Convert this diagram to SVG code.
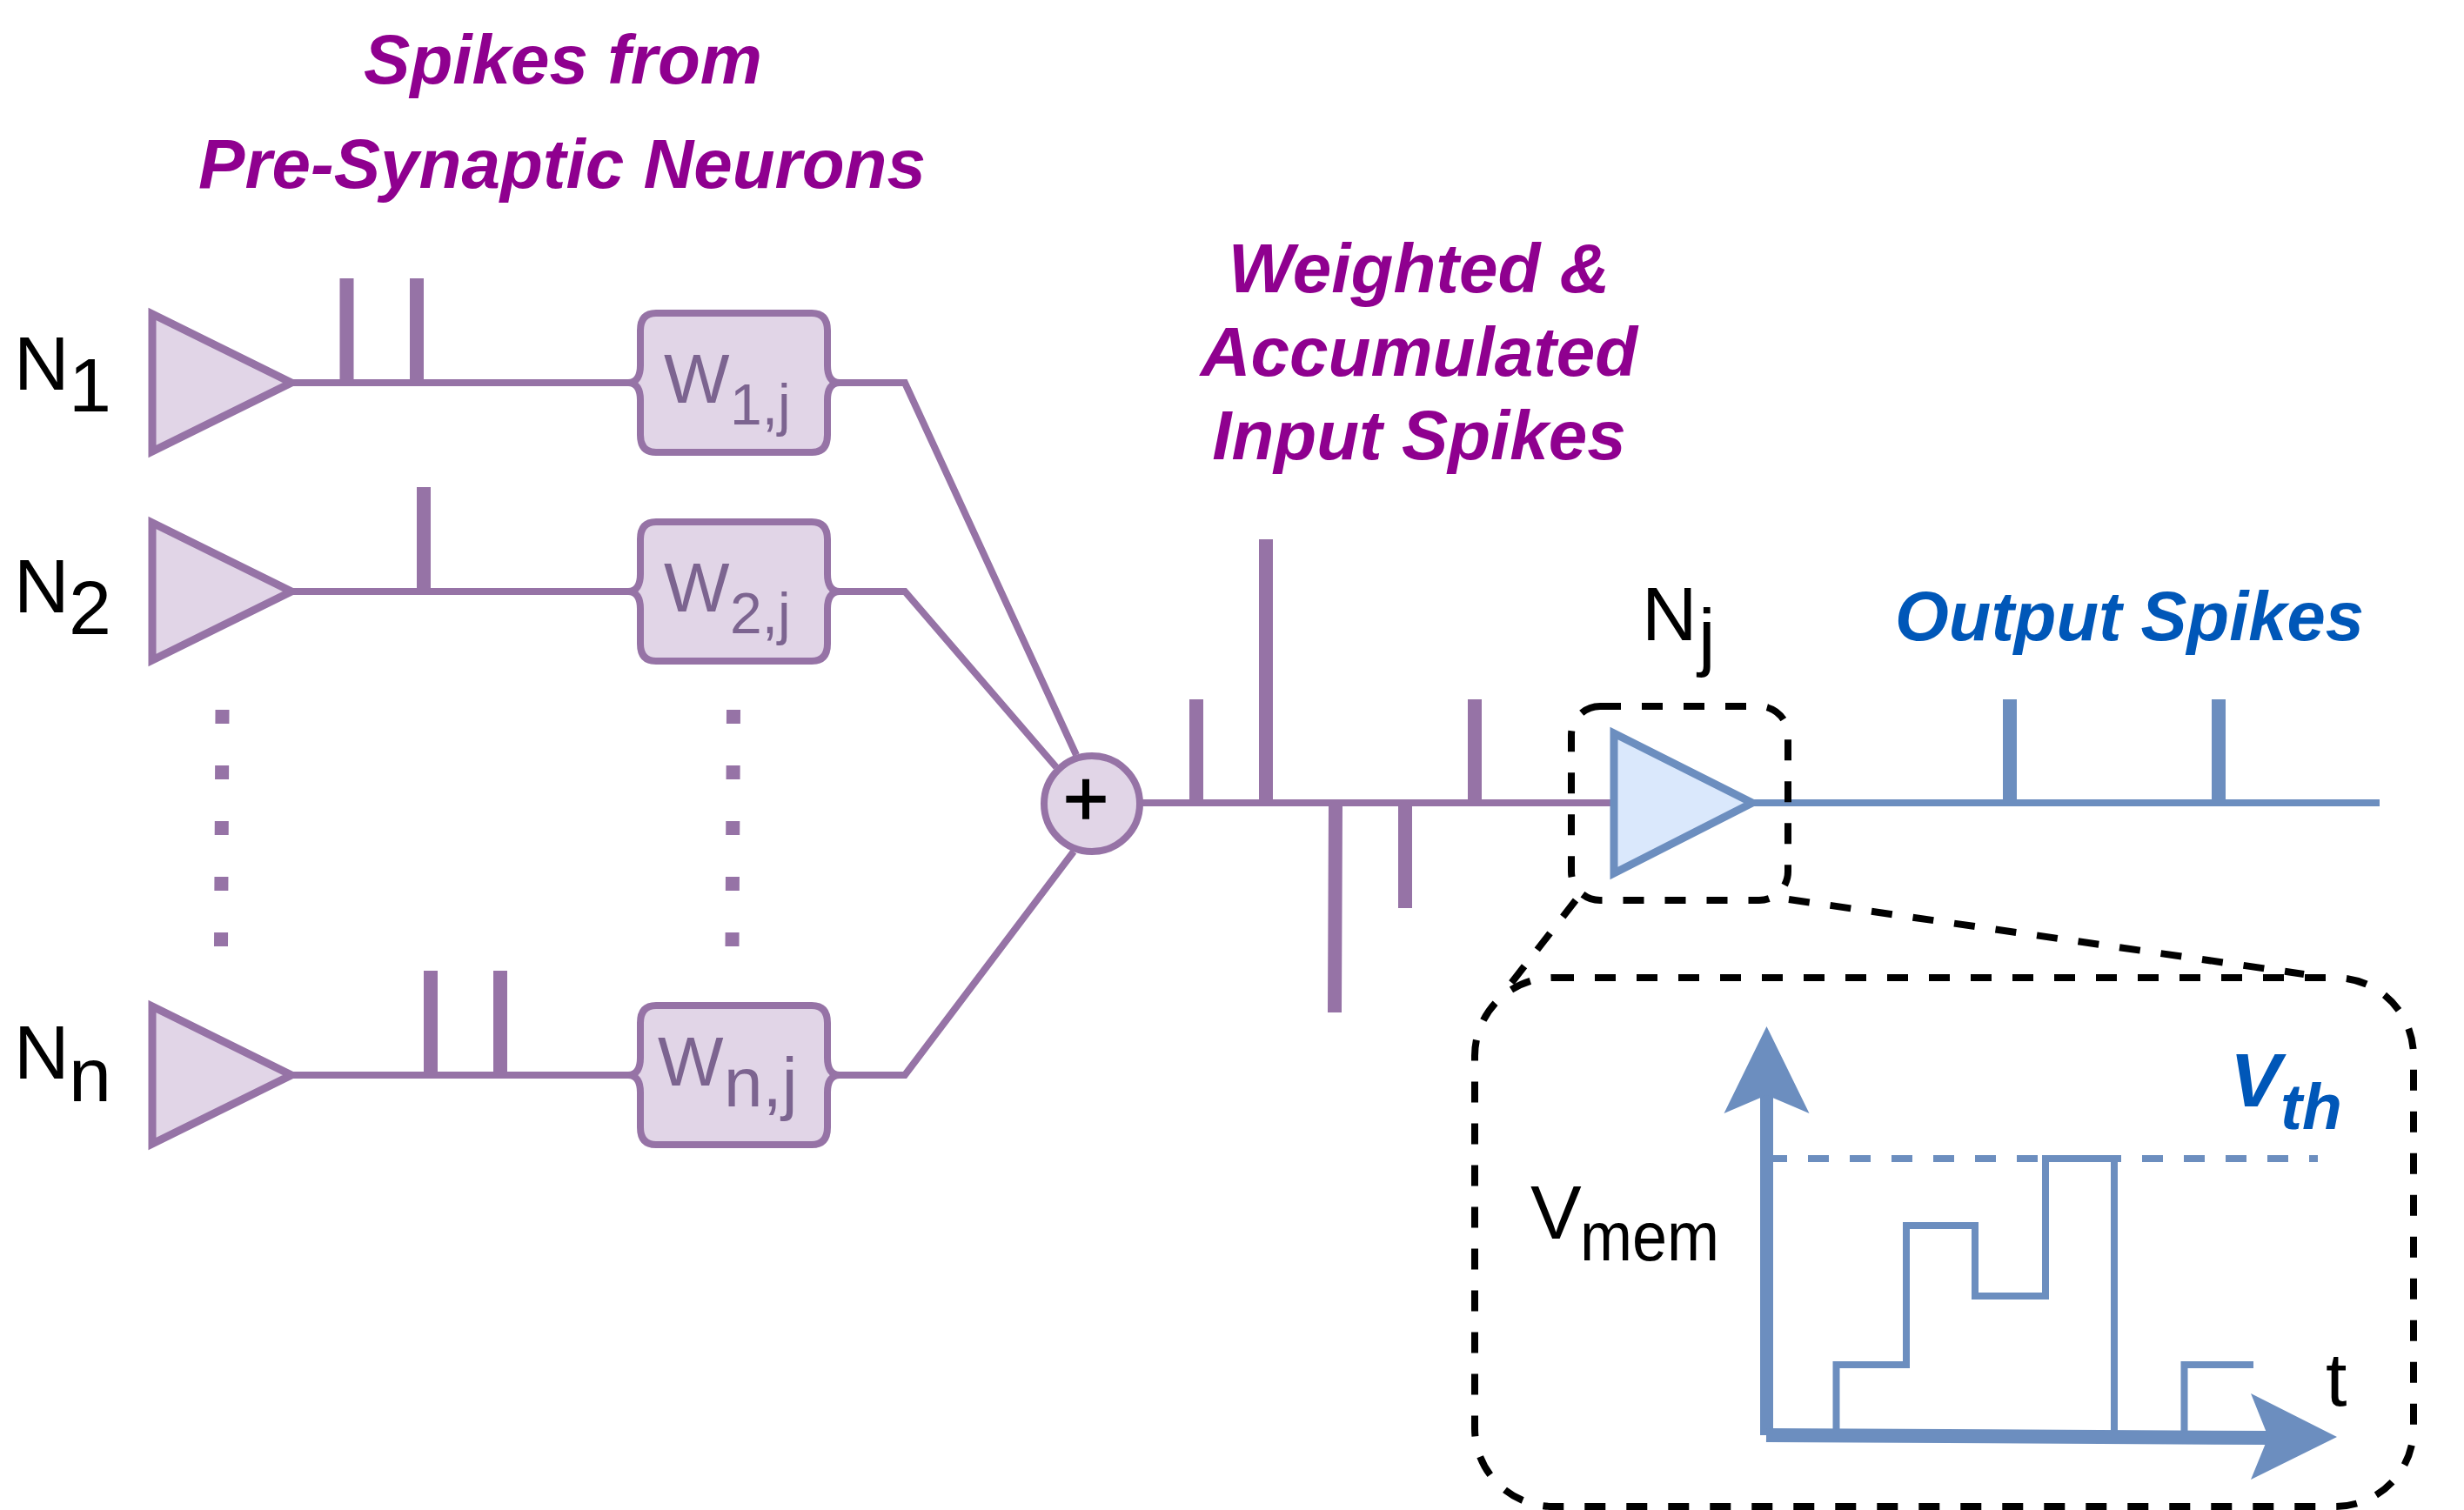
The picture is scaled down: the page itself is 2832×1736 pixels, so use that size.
<svg xmlns="http://www.w3.org/2000/svg" width="2832" height="1736" viewBox="0 0 2832 1736">
<style>
text{font-family:"Liberation Sans",Arial,sans-serif}
.wire{fill:none;stroke:#9673a6;stroke-width:8}
.spike{fill:none;stroke:#9673a6;stroke-width:16}
.bwire{fill:none;stroke:#6c8ebf;stroke-width:8}
.bspike{fill:none;stroke:#6c8ebf;stroke-width:16}
.tri{fill:#e1d5e7;stroke:#9673a6;stroke-width:9}
.syn{fill:#e1d5e7;stroke:#9673a6;stroke-width:8}
.dash{fill:none;stroke:#000;stroke-width:8;stroke-dasharray:24 24}
.lbl{font-size:88px;fill:#000}
.w{font-size:80px;fill:#7c6490}
.ws{font-size:66px;fill:#7c6490}
.pt{font-size:80px;font-weight:bold;font-style:italic;fill:#8f008f;text-anchor:middle}
.bt{font-weight:bold;font-style:italic;fill:#0057b8}
</style>
<defs>
<path id="synapse" d="M754 360H933Q951 360 951 380V420C951 432 955 440 965 440C955 440 951 448 951 460V500Q951 520 933 520H754Q736 520 736 500V460C736 448 732 440 722 440C732 440 736 432 736 420V380Q736 360 754 360Z" class="syn"/>
<path id="neuron" d="M175 361V519L335 440Z" class="tri"/>
</defs>

<g id="connectors">
<path class="wire" d="M335 440H724M963 440H1040L1237 868"/>
<path class="wire" d="M335 680H724M963 680H1040L1214 882"/>
<path class="wire" d="M335 1236H724M963 1236H1040L1234 979"/>
<path class="wire" d="M1310 923H1855"/>
<path class="bwire" d="M2016 923H2735"/>
<path class="spike" d="M398.500 320V440M479 320V440M487 560V680M495 1116V1236M575 1116V1236"/>
<path class="spike" d="M1375 804V923M1455 620V923M1535 923L1534 1164M1615 923V1044M1695 804V923"/>
<path class="bspike" d="M2310 804V923M2550 804V923"/>
<path class="spike" stroke-dasharray="16 48" d="M255.500 816L254 1090M843 816L841.500 1090"/>
<path class="dash" d="M1811 1035L1734 1134M2056 1034L2648 1120"/>
</g>

<g id="n1"><use href="#neuron"/><text class="lbl" x="16" y="448">N</text><text class="lbl" x="79" y="473">1</text></g>
<g id="n2"><use href="#neuron" y="240"/><text class="lbl" x="16" y="704">N</text><text class="lbl" x="79" y="729">2</text></g>
<g id="nn"><use href="#neuron" y="796"/><text class="lbl" x="16" y="1240">N</text><text class="lbl" x="79" y="1266">n</text></g>

<g id="w1"><use href="#synapse"/><text class="w" x="763" y="463">W</text><text class="ws" x="839" y="488">1,j</text></g>
<g id="w2"><use href="#synapse" y="240"/><text class="w" x="763" y="703">W</text><text class="ws" x="839" y="728">2,j</text></g>
<g id="wn"><use href="#synapse" y="796"/><text class="w" x="756" y="1248">W</text><text class="w" x="832" y="1272">n,j</text></g>

<g id="sum">
<circle cx="1255" cy="924" r="55" fill="#e1d5e7" stroke="#9673a6" stroke-width="8"/>
<text x="1248" y="949" font-size="90" text-anchor="middle" fill="#000" stroke="#000" stroke-width="1.500">+</text>
</g>

<g id="nj">
<path d="M1855 843V1004L2014 923Z" fill="#dae8fc" stroke="#6c8ebf" stroke-width="9"/>
<rect class="dash" x="1806" y="812" width="249" height="223" rx="33"/>
<text class="lbl" x="1887" y="736">N</text><text class="lbl" x="1952" y="761">j</text>
</g>

<g id="titles">
<text class="pt" x="647" y="96">Spikes from</text>
<text class="pt" x="646" y="216">Pre-Synaptic Neurons</text>
<text class="pt" x="1631" y="336">Weighted &amp;</text>
<text class="pt" x="1631" y="432">Accumulated</text>
<text class="pt" x="1631" y="528">Input Spikes</text>
<text class="bt" x="2178" y="736" font-size="79.500">Output Spikes</text>
</g>

<g id="membrane">
<rect class="dash" x="1695" y="1124" width="1079" height="608" rx="90"/>
<path class="bwire" stroke-dasharray="24 24" d="M2030 1332H2664"/>
<path class="bwire" d="M2110.500 1650V1569H2191V1409H2270V1490H2351V1332H2430V1650M2510.500 1650V1569H2590"/>
<path d="M2030.500 1650V1250" fill="none" stroke="#6c8ebf" stroke-width="15"/>
<path d="M2030.500 1180L2079.500 1280L2030.500 1259L1981.500 1280Z" fill="#6c8ebf"/>
<path d="M2030 1650L2610 1653" fill="none" stroke="#6c8ebf" stroke-width="16"/>
<path d="M2686 1652L2587 1701L2607 1652L2587 1602Z" fill="#6c8ebf"/>
<text class="lbl" x="1759" y="1424">V</text><text x="1816" y="1449" font-size="80" textLength="160" lengthAdjust="spacingAndGlyphs" fill="#000">mem</text>
<text class="bt" x="2563" y="1272" font-size="88">V</text><text class="bt" x="2621" y="1298" font-size="75">th</text>
<text class="lbl" x="2673" y="1616">t</text>
</g>
</svg>
